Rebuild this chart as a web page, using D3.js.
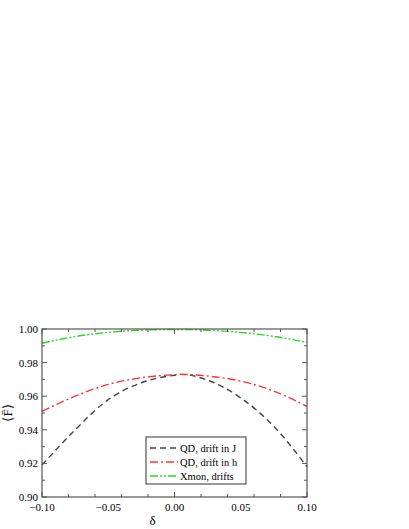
<!DOCTYPE html><html><head><script src="https://d3js.org/d3.v7.min.js"></script>
<style>body{margin:0;background:#fff}text{font-family:"Liberation Serif","Times New Roman",serif}</style></head><body><svg width="409" height="529"></svg><script>
const deltas=[-0.10,-0.075,-0.05,-0.025,0.00,0.005,0.025,0.05,0.075,0.10];
const qdJ=[0.919,0.940,0.958,0.968,0.9725,0.973,0.9695,0.959,0.942,0.918];
const qdH=[0.951,0.960,0.967,0.971,0.9728,0.973,0.972,0.969,0.963,0.954];
const xmon=[0.9915,0.9955,0.998,0.9993,0.9997,0.9997,0.9993,0.998,0.9956,0.992];
const xTicks=[-0.10,-0.05,0.00,0.05,0.10];
const yTicks=[0.90,0.92,0.94,0.96,0.98,1.00];
const names=["QD, drift in J","QD, drift in h","Xmon, drifts"];
const colors=["#444","#ff3333","#22dd22"];
const dashes=["6,4","8,3,2,3","8,2,2,2,2,2"];
const svg=d3.select("svg");
const L=42,R=307,T=329,B=497;
const x=d3.scaleLinear().domain([-0.1,0.1]).range([L,R]);
const y=d3.scaleLinear().domain([0.9,1.0]).range([B,T]);
const line=d3.line().x((d,i)=>x(deltas[i])).y(d=>y(d)).curve(d3.curveMonotoneX);
[qdJ,qdH,xmon].forEach((s,k)=>svg.append("path").attr("d",line(s)).attr("fill","none").attr("stroke",colors[k]).attr("stroke-width",1.4).attr("stroke-dasharray",dashes[k]));
svg.append("rect").attr("x",L).attr("y",T).attr("width",R-L).attr("height",B-T).attr("fill","none").attr("stroke","#555").attr("stroke-width",1.2);
const g=svg.append("g");
const fmt=d3.format(".2f");
x.ticks(8).forEach(v=>{const major=xTicks.some(t=>Math.abs(t-v)<1e-9);const len=major?5:3;
g.append("line").attr("x1",x(v)).attr("x2",x(v)).attr("y1",B).attr("y2",B-len).attr("stroke","#555");
g.append("line").attr("x1",x(v)).attr("x2",x(v)).attr("y1",T).attr("y2",T+len).attr("stroke","#555");});
d3.range(0.90,1.0001,0.01).forEach(v=>{const major=yTicks.some(t=>Math.abs(t-v)<1e-9);const len=major?5:3;
g.append("line").attr("y1",y(v)).attr("y2",y(v)).attr("x1",L).attr("x2",L+len).attr("stroke","#555");
g.append("line").attr("y1",y(v)).attr("y2",y(v)).attr("x1",R).attr("x2",R-len).attr("stroke","#555");});
xTicks.forEach(v=>g.append("text").attr("x",x(v)).attr("y",B+14).attr("text-anchor","middle").attr("font-size",11).text(v===0?"0.00":fmt(v)));
yTicks.forEach(v=>g.append("text").attr("x",L-4).attr("y",y(v)+4).attr("text-anchor","end").attr("font-size",11).text(fmt(v)));
svg.append("text").attr("x",(L+R)/2-22).attr("y",525).attr("text-anchor","middle").attr("font-size",13).text("δ");
svg.append("text").attr("transform","translate(12,413) rotate(-90)").attr("text-anchor","middle").attr("font-size",13).text("⟨F̄⟩");
const lg=svg.append("g");
lg.append("rect").attr("x",146).attr("y",437).attr("width",100).attr("height",47).attr("fill","#fff").attr("stroke","#333");
names.forEach((n,k)=>{const yy=448+k*14;
lg.append("line").attr("x1",150).attr("x2",178).attr("y1",yy).attr("y2",yy).attr("stroke",colors[k]).attr("stroke-width",1.4).attr("stroke-dasharray",dashes[k]);
lg.append("text").attr("x",180).attr("y",yy+4).attr("font-size",10.5).text(n);});
</script></body></html>
